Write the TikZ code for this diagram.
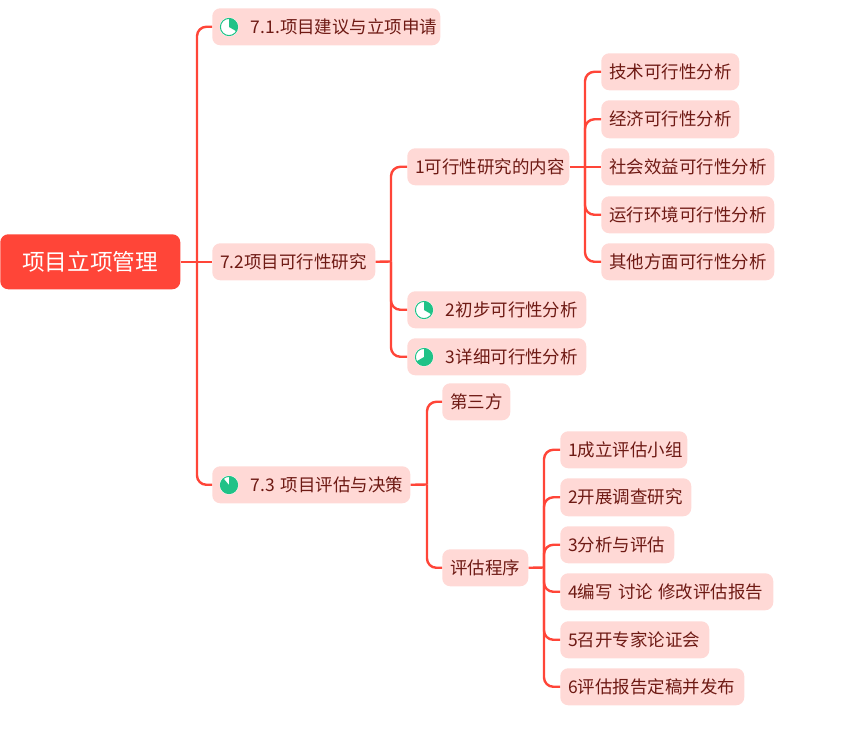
\documentclass[tikz,border=0pt]{standalone}
\usepackage{fontspec}
\setmainfont{Noto Sans CJK SC}[Scale=1]
\definecolor{linkc}{HTML}{FF4538}
\definecolor{boxc}{HTML}{FFD9D6}
\definecolor{txtc}{HTML}{6E1A14}
\definecolor{pie}{HTML}{20C287}
\tikzset{
 px/.style={x=0.75pt,y=-0.75pt},
 topic/.style={fill=boxc,rounded corners=6pt,inner ysep=0pt,inner xsep=6pt,anchor=north west,align=left,text=txtc,font=\fontsize{13.1}{15}\selectfont},
 rootbox/.style={fill=linkc,rounded corners=6pt,inner sep=0pt,anchor=north west,text=white,font=\fontsize{17}{20}\selectfont},
 link/.style={draw=linkc,line width=1.8pt,rounded corners=7pt},
 piec/.style={circle,fill=white,minimum size=14.25pt,inner sep=0pt},
}
% #1 name #2 x0 #3 y0 #4 x1 #5 y1 #6 text
\newcommand{\tbox}[6]{%
 \pgfmathsetmacro{\bw}{(#4-#2)*0.75-12}\pgfmathsetmacro{\bh}{(#5-#3)*0.75}%
 \node[topic,text width=\bw pt,minimum height=\bh pt] (#1) at (#2,#3) {\mbox{#6}};}
% icon: #1 name, #2 x, #3 y, #4 sweep angle clockwise from 12
\newcommand{\picon}[4]{%
 \node[piec] (#1) at (#2,#3) {};
 \draw[pie,line width=0.75pt] (#2,#3) circle[radius=8.6];
 \fill[pie] (#2,#3) -- ++(0,-8.6) arc[start angle=90,delta angle=-#4,radius=6.45pt] -- cycle;}
\begin{document}
\begin{tikzpicture}[px]
\useasboundingbox (0,0) rectangle (841,739);
\node[rootbox,minimum width=135pt,minimum height=41.25pt] (root) at (0,234) {项目立项管理};
\tbox{n71}{212}{8}{440}{45}{\hspace*{23pt}7.1.项目建议与立项申请}
\tbox{n72}{212}{243}{375}{280}{7.2项目可行性研究}
\tbox{n73}{212}{466}{410}{503}{\hspace*{23pt}7.3 项目评估与决策}
\tbox{a1}{407}{148}{569}{185}{1可行性研究的内容}
\tbox{a2}{407}{291}{586}{328}{\hspace*{23pt}2初步可行性分析}
\tbox{a3}{407}{338}{586}{375}{\hspace*{23pt}3详细可行性分析}
\tbox{b1}{601}{53}{739}{90}{技术可行性分析}
\tbox{b2}{601}{100}{739}{138}{经济可行性分析}
\tbox{b3}{601}{148}{774}{185}{社会效益可行性分析}
\tbox{b4}{601}{196}{774}{233}{运行环境可行性分析}
\tbox{b5}{601}{243}{774}{280}{其他方面可行性分析}
\tbox{c1}{442}{383}{510}{420}{第三方}
\tbox{c2}{442}{549}{528}{586}{评估程序}
\tbox{d1}{560}{431}{687}{468}{1成立评估小组}
\tbox{d2}{560}{478}{691}{516}{2开展调查研究}
\tbox{d3}{560}{526}{674}{563}{3分析与评估}
\tbox{d4}{560}{573}{773}{610}{4编写\hspace{4pt}讨论\hspace{4pt}修改评估报告}
\tbox{d5}{560}{621}{709}{658}{5召开专家论证会}
\tbox{d6}{560}{668}{744}{705}{6评估报告定稿并发布}
\coordinate (j0) at (197,261.5);
\coordinate (j1) at (391,261.5);
\coordinate (j2) at (585,166.5);
\coordinate (j3) at (427,484.5);
\coordinate (j4) at (544,567.5);
\draw[link] (root.east) -- (n72.west);
\draw[link] (j0) |- (n71.west);
\draw[link] (j0) |- (n73.west);
\draw[link] (n72.east) -- (j1);
\draw[link] (j1) |- (a1.west);
\draw[link] (j1) |- (a2.west);
\draw[link] (j1) |- (a3.west);
\draw[link] (a1.east) -- (b3.west);
\draw[link] (j2) |- (b1.west);
\draw[link] (j2) |- (b2.west);
\draw[link] (j2) |- (b4.west);
\draw[link] (j2) |- (b5.west);
\draw[link] (n73.east) -- (j3);
\draw[link] (j3) |- (c1.west);
\draw[link] (j3) |- (c2.west);
\draw[link] (c2.east) -- (j4);
\draw[link] (j4) |- (d1.west);
\draw[link] (j4) |- (d2.west);
\draw[link] (j4) |- (d3.west);
\draw[link] (j4) |- (d4.west);
\draw[link] (j4) |- (d5.west);
\draw[link] (j4) |- (d6.west);
\picon{i1}{229}{27}{120}
\picon{i2}{424}{310}{120}
\picon{i3}{424}{357}{240}
\picon{i4}{229}{485}{320}
\end{tikzpicture}
\end{document}
